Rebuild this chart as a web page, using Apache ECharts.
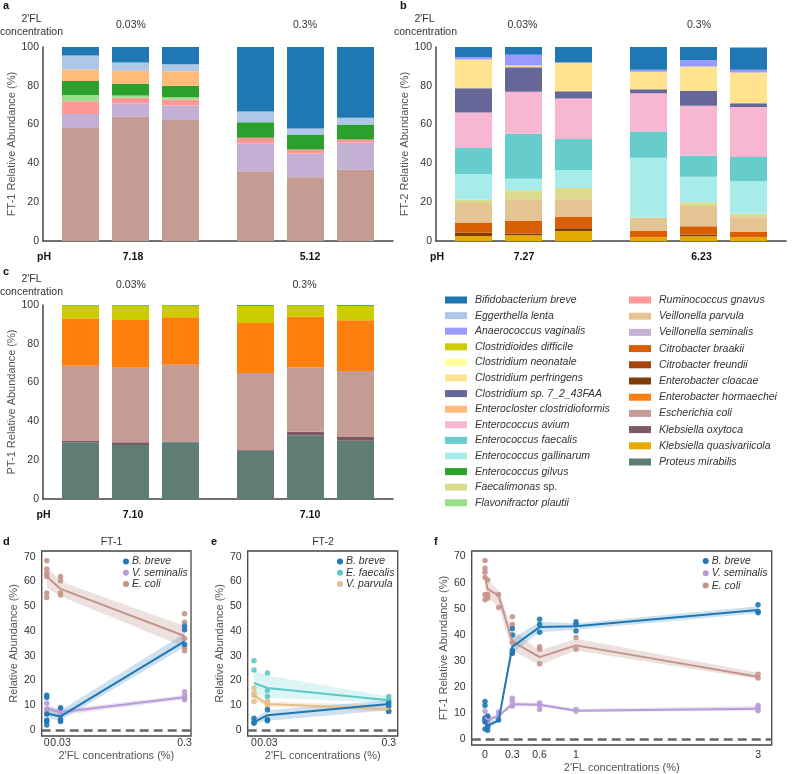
<!DOCTYPE html>
<html><head><meta charset="utf-8">
<script src="https://cdn.jsdelivr.net/npm/echarts@6/dist/echarts.min.js"></script>
<style>html,body{margin:0;padding:0;background:#fff}#c{width:800px;height:774px}</style>
</head><body><div id="c"></div><script>
// ---------- Species (legend order) ----------
const legendCol1 = ['Bifidobacterium breve','Eggerthella lenta','Anaerococcus vaginalis','Clostridioides difficile','Clostridium neonatale','Clostridium perfringens','Clostridium sp. 7_2_43FAA','Enterocloster clostridioformis','Enterococcus avium','Enterococcus faecalis','Enterococcus gallinarum','Enterococcus gilvus','Faecalimonas sp.','Flavonifractor plautii'];
const legendCol2 = ['Ruminococcus gnavus','Veillonella parvula','Veillonella seminalis','Citrobacter braakii','Citrobacter freundii','Enterobacter cloacae','Enterobacter hormaechei','Escherichia coli','Klebsiella oxytoca','Klebsiella quasivariicola','Proteus mirabilis'];
const colorsCol1 = ['#1f77b4','#aec7e8','#9999ff','#cccc00','#ffff99','#ffe38f','#666699','#ffbb78','#f7b6d2','#66cccc','#a8ecea','#2ca02c','#dbdb8d','#98df8a'];
const colorsCol2 = ['#ff9896','#e5c494','#c5b0d5','#d95f02','#a6460c','#7f3b08','#ff7f0e','#c49c94','#7d5a63','#e6ab02','#607d75'];

// ---------- Sample slots on the bar axes ----------
const slotNames = ['g0','s1','g1','s2','g2','s3','g3','g4','s4','g5','s5','g6','s6','g7'];
const sampleSlots = [1,3,5,8,10,12];

// ---------- Panel a: FT-1 ----------
const ft1_Ecoli = [58.2, 64.2, 62.4, 36.0, 32.9, 36.7];
const ft1_Vseminalis = [7.3, 6.7, 7.4, 14.4, 12.2, 13.9];
const ft1_Rgnavus = [6.6, 2.9, 3.1, 2.8, 2.1, 1.7];
const ft1_Fplautii = [3.2, 1.2, 1.2, 0, 0, 0];
const ft1_Egilvus = [7.2, 6.0, 5.9, 8.0, 7.7, 7.8];
const ft1_Eclostridioformis = [5.9, 6.7, 7.5, 0, 0, 0];
const ft1_Elenta = [7.2, 4.3, 3.6, 5.5, 3.1, 3.4];
const ft1_Bbreve = [4.4, 8.0, 8.9, 33.3, 42.0, 36.5];

// ---------- Panel b: FT-2 ----------
const ft2_Kquasi = [2.6, 2.9, 5.2, 1.9, 2.4, 1.9];
const ft2_Ecloacae = [1.7, 1.0, 1.4, 0, 0.9, 0];
const ft2_Cbraakii = [5.2, 6.4, 5.8, 3.3, 4.3, 2.7];
const ft2_Vparvula = [10.1, 11.2, 9.1, 6.9, 10.5, 7.7];
const ft2_Faecalimonas = [1.7, 4.6, 5.8, 0, 1.9, 1.7];
const ft2_Egallinarum = [13.2, 6.0, 9.3, 30.8, 13.1, 16.8];
const ft2_Efaecalis = [13.4, 23.2, 16.0, 13.6, 10.8, 12.5];
const ft2_Eavium = [18.4, 21.6, 20.8, 19.6, 25.8, 25.8];
const ft2_Clostridium = [12.5, 12.7, 3.8, 2.1, 7.7, 1.9];
const ft2_Cperfringens = [14.8, 0.9, 14.8, 9.1, 12.5, 15.8];
const ft2_Avaginalis = [1.2, 5.5, 0, 1.0, 3.3, 1.5];
const ft2_Bbreve = [5.2, 4.0, 8.0, 11.7, 6.9, 11.5];

// ---------- Panel c: PT-1 ----------
const pt1_Pmirabilis = [29.2, 27.8, 29.3, 24.9, 32.8, 30.0];
const pt1_Koxytoca = [0.9, 1.4, 0.4, 0.3, 1.9, 1.9];
const pt1_Ecoli = [38.6, 38.4, 39.5, 39.8, 33.1, 34.1];
const pt1_Ehormaechei = [24.4, 24.7, 24.5, 25.7, 26.1, 26.2];
const pt1_Cdifficile = [6.6, 7.4, 6.0, 8.9, 5.8, 7.4];
const pt1_Bbreve = [0.3, 0.3, 0.3, 0.4, 0.3, 0.4];

// ---------- Panel d: FT-1 lines ----------
const dX = [0, 0.03, 0.3];
const d_Bbreve_mean = [6.7, 5.5, 35.8];
const d_Bbreve_lo = [4.5, 4.0, 33.5];
const d_Bbreve_hi = [9.5, 8.0, 39.0];
const d_Bbreve_pts = [[14.1, 13.1, 6.5, 4.0, 3.5, 2.0], [9.0, 4.3, 3.5], [42.0, 40.5, 34.5]];
const d_Vsem_mean = [8.7, 7.2, 13.2];
const d_Vsem_lo = [7.0, 6.0, 12.3];
const d_Vsem_hi = [10.3, 8.3, 14.2];
const d_Vsem_pts = [[10.8, 8.5, 8.1, 6.5], [8.5, 7.0, 6.0], [15.5, 14.0, 12.8, 12.2]];
const d_Ecoli_mean = [62.0, 57.0, 38.0];
const d_Ecoli_lo = [57.5, 54.0, 33.5];
const d_Ecoli_hi = [66.0, 60.0, 42.0];
const d_Ecoli_pts = [[68.4, 65.0, 63.2, 62.0, 55.3, 53.5], [62.0, 60.3, 55.3, 54.5], [47.0, 43.5, 37.0, 33.2, 32.0]];

// ---------- Panel e: FT-2 lines ----------
const eX = [0, 0.03, 0.3];
const e_Bbreve_mean = [3.2, 6.0, 10.5];
const e_Bbreve_lo = [2.5, 3.8, 8.0];
const e_Bbreve_hi = [4.5, 8.0, 12.0];
const e_Bbreve_pts = [[4.8, 3.3, 2.7], [8.2, 4.3, 3.8], [11.0, 9.8, 7.5]];
const e_Efae_mean = [19.0, 17.0, 12.0];
const e_Efae_lo = [15.0, 13.0, 11.0];
const e_Efae_hi = [24.0, 22.0, 13.5];
const e_Efae_pts = [[28.0, 24.2], [23.0, 16.0, 13.5], [13.5, 12.3, 11.5]];
const e_Vpar_mean = [14.0, 10.5, 8.5];
const e_Vpar_lo = [12.0, 9.5, 7.5];
const e_Vpar_hi = [16.0, 11.5, 10.0];
const e_Vpar_pts = [[17.0, 15.0, 14.0, 11.5], [11.5, 10.5, 9.5], [9.0, 8.0, 7.5]];

// ---------- Panel f: FT-1 dose series ----------
const fX = [0, 0.03, 0.15, 0.3, 0.6, 1, 3];
const f_Ecoli_mean = [62.0, 57.5, 55.0, 37.5, 31.5, 36.0, 24.0];
const f_Ecoli_lo = [58.0, 54.0, 51.0, 34.0, 28.5, 34.0, 23.0];
const f_Ecoli_hi = [66.0, 61.0, 57.0, 42.0, 34.0, 38.5, 25.5];
const f_Ecoli_pts = [[68.5, 65.5, 64.0, 62.0, 55.5, 53.5], [61.0, 55.5, 54.0], [55.5, 50.5], [47.0, 44.0, 37.0, 33.0], [35.5, 34.5, 29.0], [39.0, 34.5], [25.0, 23.5]];
const f_Bbreve_mean = [6.5, 5.3, 7.3, 35.5, 43.0, 43.3, 49.5];
const f_Bbreve_lo = [4.5, 4.0, 6.8, 33.0, 41.0, 42.0, 48.3];
const f_Bbreve_hi = [9.5, 7.0, 8.0, 38.5, 45.0, 44.5, 51.0];
const f_Bbreve_pts = [[14.5, 13.0, 8.0, 7.0, 4.0], [9.0, 8.0, 5.0, 3.5], [7.5], [42.5, 40.0, 34.0, 33.0], [46.0, 44.0, 41.0], [45.0, 44.0, 41.5], [51.5, 49.0, 48.5]];
const f_Vsem_mean = [8.5, 7.5, 9.0, 13.5, 13.3, 11.0, 11.8];
const f_Vsem_lo = [7.0, 6.5, 8.5, 12.8, 12.5, 10.5, 11.0];
const f_Vsem_hi = [10.0, 8.5, 10.0, 14.5, 14.0, 11.8, 12.8];
const f_Vsem_pts = [[10.8, 8.5, 8.0, 6.5], [8.5, 7.0, 6.0], [10.5, 9.0], [15.8, 14.5, 13.0, 12.8], [14.0, 13.0, 11.5], [11.5, 10.8], [13.0, 12.2, 11.0]];

const yTicksBar = [0, 20, 40, 60, 80, 100];
const yTicksLine = [0, 10, 20, 30, 40, 50, 60, 70];
const dTicks = [0, 0.03, 0.3];
const fTicks = [0, 0.3, 0.6, 1, 3];

// ---------- Build ----------
const FONT = '"Liberation Sans", Arial, Helvetica, sans-serif';
const allSpecies = legendCol1.concat(legendCol2);
const allColors = colorsCol1.concat(colorsCol2);
const colorOf = {};
allSpecies.forEach((s, i) => colorOf[s] = allColors[i]);
const stackOrder = allSpecies.slice().reverse();

const panelA = {'Escherichia coli': ft1_Ecoli, 'Veillonella seminalis': ft1_Vseminalis, 'Ruminococcus gnavus': ft1_Rgnavus, 'Flavonifractor plautii': ft1_Fplautii, 'Enterococcus gilvus': ft1_Egilvus, 'Enterocloster clostridioformis': ft1_Eclostridioformis, 'Eggerthella lenta': ft1_Elenta, 'Bifidobacterium breve': ft1_Bbreve};
const panelB = {'Klebsiella quasivariicola': ft2_Kquasi, 'Enterobacter cloacae': ft2_Ecloacae, 'Citrobacter braakii': ft2_Cbraakii, 'Veillonella parvula': ft2_Vparvula, 'Faecalimonas sp.': ft2_Faecalimonas, 'Enterococcus gallinarum': ft2_Egallinarum, 'Enterococcus faecalis': ft2_Efaecalis, 'Enterococcus avium': ft2_Eavium, 'Clostridium sp. 7_2_43FAA': ft2_Clostridium, 'Clostridium perfringens': ft2_Cperfringens, 'Anaerococcus vaginalis': ft2_Avaginalis, 'Bifidobacterium breve': ft2_Bbreve};
const panelC = {'Proteus mirabilis': pt1_Pmirabilis, 'Klebsiella oxytoca': pt1_Koxytoca, 'Escherichia coli': pt1_Ecoli, 'Enterobacter hormaechei': pt1_Ehormaechei, 'Clostridioides difficile': pt1_Cdifficile, 'Bifidobacterium breve': pt1_Bbreve};

const grids = [
  {left: 43, top: 47, width: 350, height: 194},
  {left: 436, top: 47, width: 350, height: 194},
  {left: 43, top: 305, width: 350, height: 194},
  {left: 41.7, top: 551, width: 149.3, height: 185, show: true, borderColor: '#444', borderWidth: 1.3},
  {left: 247.7, top: 551, width: 150, height: 185, show: true, borderColor: '#444', borderWidth: 1.3},
  {left: 471.7, top: 551, width: 300, height: 194, show: true, borderColor: '#444', borderWidth: 1.3}
];

const xAxes = [], yAxes = [], series = [];
const barNames = ['FT-1 Relative Abundance (%)', 'FT-2 Relative Abundance (%)', 'PT-1 Relative Abundance (%)'];
[panelA, panelB, panelC].forEach((panel, g) => {
  xAxes.push({gridIndex: g, type: 'category', data: slotNames, axisTick: {show: false}, axisLabel: {show: false},
    axisLine: {lineStyle: {color: '#444', width: 1.5}}});
  yAxes.push({gridIndex: g, type: 'value', min: 0, max: 100, interval: 20,
    axisLine: {show: true, lineStyle: {color: '#444', width: 1.5}}, axisTick: {show: false}, splitLine: {show: false},
    axisLabel: {fontSize: 10.5, color: '#333', margin: 4, fontFamily: FONT},
    name: barNames[g], nameLocation: 'middle', nameGap: 21, nameTextStyle: {fontSize: 11, color: '#555', fontFamily: FONT}});
  stackOrder.forEach(sp => {
    const vals = panel[sp];
    const data = slotNames.map(() => '-');
    if (vals) sampleSlots.forEach((k, j) => { data[k] = vals[j] > 0 ? vals[j] : '-'; });
    series.push({type: 'bar', name: sp, xAxisIndex: g, yAxisIndex: g, stack: 'st' + g, barWidth: 37,
      itemStyle: {color: colorOf[sp]}, data: data, silent: true});
  });
});

const lineAxes = [
  {xmin: -0.011, xmax: 0.314, ymin: -2.4, ymax: 72.3, ticks: dTicks, name: 'Relative Abundance (%)', xgap: 14, lmargin: 2},
  {xmin: -0.014, xmax: 0.320, ymin: -2.4, ymax: 72.3, ticks: dTicks, name: 'Relative Abundance (%)', xgap: 14, lmargin: 2},
  {xmin: -0.146, xmax: 3.15, ymin: -2.1, ymax: 72.1, ticks: fTicks, name: 'FT-1 Relative Abundance (%)', xgap: 17, lmargin: 5}
];
lineAxes.forEach((a, k) => {
  const g = 3 + k;
  xAxes.push({gridIndex: g, type: 'value', min: a.xmin, max: a.xmax, axisLine: {show: false}, axisTick: {show: false}, splitLine: {show: false},
    axisLabel: {customValues: a.ticks, fontSize: 10.5, color: '#333', margin: a.lmargin, fontFamily: FONT, showMinLabel: true, showMaxLabel: true},
    name: "2'FL concentrations (%)", nameLocation: 'middle', nameGap: a.xgap, nameTextStyle: {fontSize: 11, color: '#555', fontFamily: FONT}});
  yAxes.push({gridIndex: g, type: 'value', min: a.ymin, max: a.ymax, axisLine: {show: false}, axisTick: {show: false}, splitLine: {show: false},
    axisLabel: {customValues: yTicksLine, fontSize: 10.5, color: '#333', margin: 6, fontFamily: FONT},
    name: a.name, nameLocation: 'middle', nameGap: 22, nameTextStyle: {fontSize: 11, color: '#555', fontFamily: FONT}});
});

function bandRender(color, opacity, n) {
  return function (params, api) {
    if (params.dataIndexInside !== 0) return null;
    const lower = [], upper = [];
    for (let i = 0; i < n; i++) {
      lower.push(api.coord([api.value(0, i), api.value(1, i)]));
      upper.push(api.coord([api.value(0, i), api.value(2, i)]));
    }
    return {type: 'polygon', shape: {points: lower.concat(upper.reverse())}, style: {fill: color, opacity: opacity}};
  };
}
function addLine(g, name, xs, mean, lo, hi, pts, lineColor, bandColor, bandOp, withZero) {
  series.push({type: 'custom', name: name + ' CI', xAxisIndex: g, yAxisIndex: g, silent: true, z: 1,
    renderItem: bandRender(bandColor, bandOp, xs.length), encode: {x: 0, y: [1, 2]},
    data: xs.map((x, i) => [x, lo[i], hi[i]])});
  const scat = [];
  pts.forEach((arr, i) => arr.forEach(v => scat.push([xs[i], v])));
  const ln = {type: 'line', name: name, xAxisIndex: g, yAxisIndex: g, silent: true, z: 3,
    data: xs.map((x, i) => [x, mean[i]]), showSymbol: false, symbol: 'circle', symbolSize: 6,
    lineStyle: {color: lineColor, width: 2}, itemStyle: {color: lineColor}};
  if (withZero) {
    ln.markLine = {silent: true, symbol: 'none', label: {show: false}, data: [{yAxis: 0}],
      lineStyle: {color: '#666', type: [9, 5], width: 2.5}};
  }
  series.push(ln);
  series.push({type: 'scatter', name: name, xAxisIndex: g, yAxisIndex: g, silent: true, z: 2, symbolSize: 5.5,
    itemStyle: {color: lineColor, opacity: 0.9}, data: scat});
}
const cB = '#1f77b4', cV = '#b99bd7', cE = '#c4938a', cF = '#5bc8c8', cP = '#e3bf8c';
addLine(3, 'E. coli', dX, d_Ecoli_mean, d_Ecoli_lo, d_Ecoli_hi, d_Ecoli_pts, cE, '#c49c94', 0.3, true);
addLine(3, 'V. seminalis', dX, d_Vsem_mean, d_Vsem_lo, d_Vsem_hi, d_Vsem_pts, cV, '#c5b0d5', 0.35, false);
addLine(3, 'B. breve', dX, d_Bbreve_mean, d_Bbreve_lo, d_Bbreve_hi, d_Bbreve_pts, cB, '#1f77b4', 0.22, false);
addLine(4, 'E. faecalis', eX, e_Efae_mean, e_Efae_lo, e_Efae_hi, e_Efae_pts, cF, '#66cccc', 0.22, true);
addLine(4, 'V. parvula', eX, e_Vpar_mean, e_Vpar_lo, e_Vpar_hi, e_Vpar_pts, cP, '#e5c494', 0.3, false);
addLine(4, 'B. breve', eX, e_Bbreve_mean, e_Bbreve_lo, e_Bbreve_hi, e_Bbreve_pts, cB, '#1f77b4', 0.22, false);
addLine(5, 'E. coli', fX, f_Ecoli_mean, f_Ecoli_lo, f_Ecoli_hi, f_Ecoli_pts, cE, '#c49c94', 0.3, true);
addLine(5, 'V. seminalis', fX, f_Vsem_mean, f_Vsem_lo, f_Vsem_hi, f_Vsem_pts, cV, '#c5b0d5', 0.35, false);
addLine(5, 'B. breve', fX, f_Bbreve_mean, f_Bbreve_lo, f_Bbreve_hi, f_Bbreve_pts, cB, '#1f77b4', 0.22, false);

const richLegend = {
  i: {fontStyle: 'italic', fontSize: 10.5, color: '#333', fontFamily: FONT},
  n: {fontStyle: 'normal', fontSize: 10.5, color: '#333', fontFamily: FONT}
};
function legFmt(name) {
  if (name === 'Faecalimonas sp.') return '{i|Faecalimonas} {n|sp.}';
  return '{i|' + name + '}';
}
function bigLegend(names, left, gap) {
  return {data: names.map(n => ({name: n, icon: 'rect'})), orient: 'vertical', left: left, top: 294, padding: 0,
    itemWidth: 22, itemHeight: 7, itemGap: gap, selectedMode: false, formatter: legFmt,
    textStyle: {fontSize: 10.5, color: '#333', lineHeight: 12, fontFamily: FONT, padding: [0, 0, 0, 3], rich: richLegend}};
}
function smallLegend(names, left, top, lh, gap) {
  return {data: names.map(n => ({name: n, icon: 'circle'})), orient: 'vertical', left: left, top: top, padding: 0,
    itemWidth: 6, itemHeight: 6, itemGap: gap, selectedMode: false,
    textStyle: {fontSize: 10.5, color: '#333', fontStyle: 'italic', lineHeight: lh, fontFamily: FONT, padding: [0, 0, 0, -2]}};
}

function txt(x, y, s, opt) {
  opt = opt || {};
  return {type: 'text', x: x, y: y, silent: true, style: {text: s, fontSize: opt.size || 10.5, fontWeight: opt.bold ? 'bold' : 'normal',
    fill: opt.color || '#333', fontFamily: FONT, align: opt.align || 'center', verticalAlign: 'middle'}};
}
const graphics = [
  txt(3, 6, 'a', {bold: true, size: 11, align: 'left', color: '#111'}),
  txt(31.5, 19, "2'FL"), txt(31.5, 32, 'concentration'),
  txt(131, 25, '0.03%'), txt(305, 25, '0.3%'),
  txt(44, 257, 'pH', {bold: true, color: '#111'}), txt(133, 257, '7.18', {bold: true, color: '#111'}), txt(310, 257, '5.12', {bold: true, color: '#111'}),
  txt(400, 6, 'b', {bold: true, size: 11, align: 'left', color: '#111'}),
  txt(424.5, 19, "2'FL"), txt(425.5, 32, 'concentration'),
  txt(522.5, 25, '0.03%'), txt(699, 25, '0.3%'),
  txt(437, 257, 'pH', {bold: true, color: '#111'}), txt(524, 257, '7.27', {bold: true, color: '#111'}), txt(701.5, 257, '6.23', {bold: true, color: '#111'}),
  txt(3, 272, 'c', {bold: true, size: 11, align: 'left', color: '#111'}),
  txt(31.5, 279, "2'FL"), txt(31.5, 292, 'concentration'),
  txt(131, 285, '0.03%'), txt(304.5, 285, '0.3%'),
  txt(43.5, 515, 'pH', {bold: true, color: '#111'}), txt(133, 515, '7.10', {bold: true, color: '#111'}), txt(310, 515, '7.10', {bold: true, color: '#111'}),
  txt(3, 542, 'd', {bold: true, size: 11, align: 'left', color: '#111'}), txt(111.5, 542, 'FT-1'),
  txt(211, 542, 'e', {bold: true, size: 11, align: 'left', color: '#111'}), txt(323, 542, 'FT-2'),
  txt(434, 542, 'f', {bold: true, size: 11, align: 'left', color: '#111'})
];

const option = {
  animation: false,
  backgroundColor: '#fff',
  textStyle: {fontFamily: FONT},
  grid: grids,
  xAxis: xAxes,
  yAxis: yAxes,
  legend: [
    bigLegend(legendCol1, 445, 3.6),
    bigLegend(legendCol2, 629, 4.2),
    smallLegend(['B. breve', 'V. seminalis', 'E. coli'], 123, 556, 9, 0.2),
    smallLegend(['B. breve', 'E. faecalis', 'V. parvula'], 337, 556, 9, 0.2),
    smallLegend(['B. breve', 'V. seminalis', 'E. coli'], 702.7, 555, 12, 0.3)
  ],
  graphic: graphics,
  series: series
};
const chart = echarts.init(document.getElementById('c'), null, {renderer: 'canvas'});
chart.setOption(option);
</script></body></html>
